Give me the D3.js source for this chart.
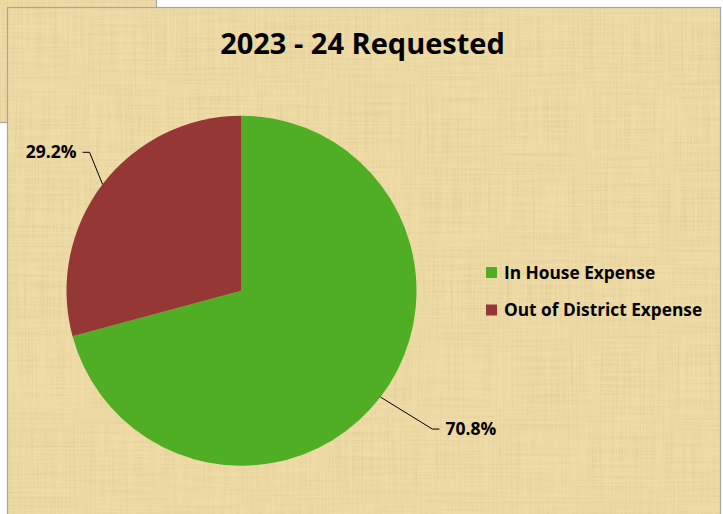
<!DOCTYPE html>
<html>
<head>
<meta charset="utf-8">
<script src="https://cdn.jsdelivr.net/npm/d3@7"></script>
<style>
  html, body { margin: 0; padding: 0; background: #fff; }
  svg { display: block; }
  text { font-family: "Open Sans", "Noto Sans", sans-serif; font-weight: bold; fill: #000; }
</style>
</head>
<body>
<svg width="723" height="514"></svg>
<script>
// Chart data
var title = "2023 - 24 Requested";
var categories = ["In House Expense", "Out of District Expense"];
var values = [70.8, 29.2];
var colors = ["#4fae23", "#953735"];

var svg = d3.select("svg");

// Papyrus-like texture
var defs = svg.append("defs");
var f = defs.append("filter").attr("id", "fibers")
  .attr("x", 0).attr("y", 0).attr("width", "100%").attr("height", "100%");
f.append("feTurbulence").attr("type", "fractalNoise")
  .attr("baseFrequency", "0.6 0.012").attr("numOctaves", 2).attr("seed", 3).attr("result", "v");
f.append("feTurbulence").attr("type", "fractalNoise")
  .attr("baseFrequency", "0.012 0.5").attr("numOctaves", 2).attr("seed", 7).attr("result", "h");
f.append("feComposite").attr("in", "v").attr("in2", "h")
  .attr("operator", "arithmetic").attr("k2", 0.5).attr("k3", 0.5).attr("result", "n");
f.append("feColorMatrix").attr("in", "n").attr("type", "matrix")
  .attr("values", "0 0 0 0 0.66  0 0 0 0 0.52  0 0 0 0 0.24  1.8 0 0 0 -0.78");

function panel(x, y, w, h) {
  svg.append("rect").attr("x", x).attr("y", y).attr("width", w).attr("height", h)
    .attr("fill", "#eedba6");
  svg.append("rect").attr("x", x).attr("y", y).attr("width", w).attr("height", h)
    .attr("filter", "url(#fibers)").attr("opacity", 0.7);
  svg.append("rect").attr("x", x).attr("y", y).attr("width", w).attr("height", h)
    .attr("fill", "none").attr("stroke", "#a6a6a6").attr("stroke-width", 1.2);
}

// panel of the chart behind, then the main chart area
panel(-2, -2, 158.5, 124.5);
panel(7.5, 7.5, 713, 520);

// Title
svg.append("text")
  .attr("x", 362.5).attr("y", 54)
  .attr("text-anchor", "middle")
  .style("font-size", "29px")
  .text(title);

// Pie
var cx = 241.5, cy = 290.7, radius = 175;
var pie = d3.pie().sort(null).value(function(d) { return d; });
var arcs = pie(values);
var arc = d3.arc().innerRadius(0).outerRadius(radius);

var g = svg.append("g").attr("transform", "translate(" + cx + "," + cy + ")");
g.selectAll("path.slice")
  .data(arcs)
  .enter().append("path")
  .attr("class", "slice")
  .attr("d", arc)
  .attr("fill", function(d, i) { return colors[i]; });

// Data labels with leader lines
var elbow = [[52, 32], [-13, -32]];
var tail = 7;
arcs.forEach(function(d, i) {
  var a = (d.startAngle + d.endAngle) / 2;
  var p0 = [radius * Math.sin(a), -radius * Math.cos(a)];
  var p1 = [p0[0] + elbow[i][0], p0[1] + elbow[i][1]];
  var right = Math.sin(a) > 0;
  var p2 = [p1[0] + (right ? tail : -tail), p1[1]];
  g.append("polyline")
    .attr("points", [p0, p1, p2].map(function(p) { return p.join(","); }).join(" "))
    .attr("fill", "none").attr("stroke", "#000").attr("stroke-width", 1);
  g.append("text")
    .attr("x", p2[0] + (right ? 6 : -6))
    .attr("y", p2[1] + 6)
    .attr("text-anchor", right ? "start" : "end")
    .style("font-size", "17.5px")
    .text(d3.format(".1f")(values[i]) + "%");
});

// Legend
var legend = svg.append("g").attr("transform", "translate(486,267)");
var item = legend.selectAll("g")
  .data(categories)
  .enter().append("g")
  .attr("transform", function(d, i) { return "translate(0," + (i * 37.5) + ")"; });
item.append("rect")
  .attr("width", 11).attr("height", 11)
  .attr("fill", function(d, i) { return colors[i]; });
item.append("text")
  .attr("x", 18).attr("y", 11.5)
  .style("font-size", "17.3px")
  .text(function(d) { return d; });
</script>
</body>
</html>
